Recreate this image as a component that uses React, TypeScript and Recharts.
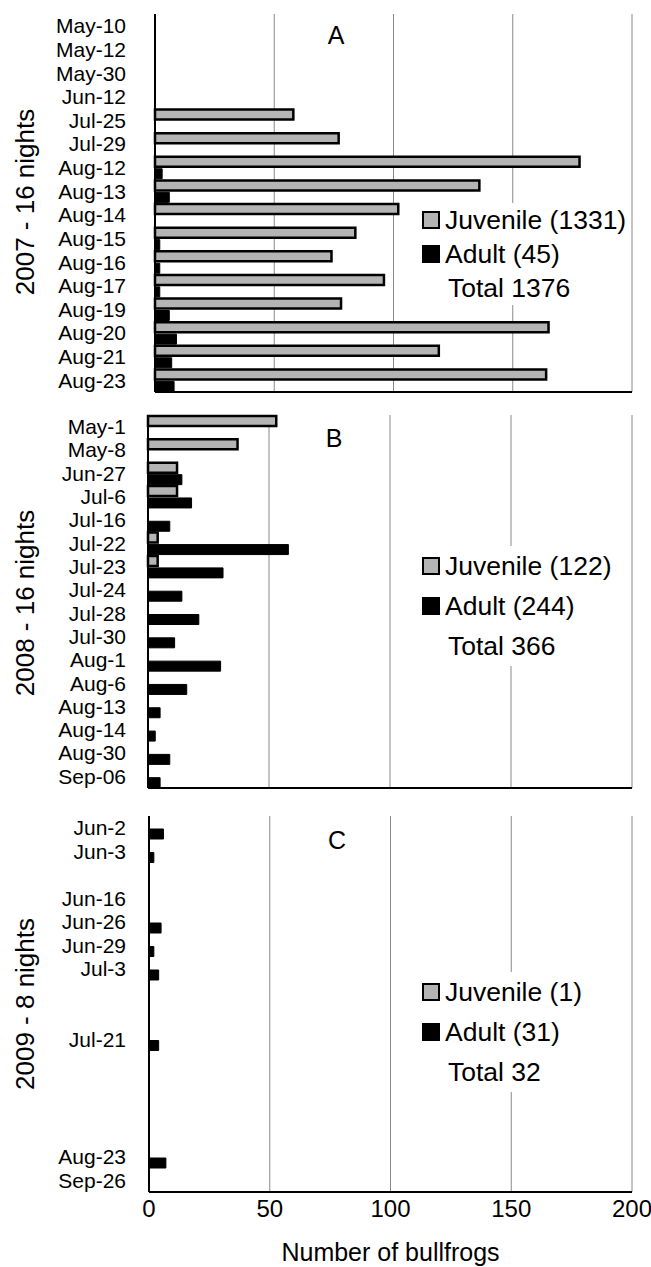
import React from "react";
import { BarChart, Bar, XAxis, YAxis, CartesianGrid, Legend } from "recharts";

// 2007
const datesA = ["May-10", "May-12", "May-30", "Jun-12", "Jul-25", "Jul-29", "Aug-12", "Aug-13", "Aug-14", "Aug-15", "Aug-16", "Aug-17", "Aug-19", "Aug-20", "Aug-21", "Aug-23"];
const juvenileA = [0, 0, 0, 0, 58, 77, 178, 136, 102, 84, 74, 96, 78, 165, 119, 164];
const adultA = [0, 0, 0, 0, 0, 0, 3, 6, 0, 2, 2, 2, 6, 9, 7, 8];

// 2008
const datesB = ["May-1", "May-8", "Jun-27", "Jul-6", "Jul-16", "Jul-22", "Jul-23", "Jul-24", "Jul-28", "Jul-30", "Aug-1", "Aug-6", "Aug-13", "Aug-14", "Aug-30", "Sep-06"];
const juvenileB = [53, 37, 12, 12, 0, 4, 4, 0, 0, 0, 0, 0, 0, 0, 0, 0];
const adultB = [0, 0, 14, 18, 9, 58, 31, 14, 21, 11, 30, 16, 5, 3, 9, 5];

// 2009 (blank slots are empty categories)
const datesC = ["Jun-2", "Jun-3", "", "Jun-16", "Jun-26", "Jun-29", "Jul-3", "", "", "Jul-21", "", "", "", "", "Aug-23", "Sep-26"];
const juvenileC = [0, 0, 0, 0, 0, 0, 0, 0, 0, 0, 0, 0, 0, 0, 0, 0];
const adultC = [6, 2, 0, 0, 5, 2, 4, 0, 0, 4, 0, 0, 0, 0, 7, 0];

const xTicks = [0, 50, 100, 150, 200];
const legendA = ["Juvenile (1331)", "Adult (45)", "Total 1376"];
const legendB = ["Juvenile (122)", "Adult (244)", "Total 366"];
const legendC = ["Juvenile (1)", "Adult (31)", "Total 32"];

const FONT = "'Liberation Sans', Arial, Helvetica, sans-serif";
const GRAY = "#b4b4b4";

type PanelProps = {
  dates: string[];
  juvenile: number[];
  adult: number[];
  top: number;
  height: number;
  marginTop: number;
  axisWidth: number;
  tickGap: number;
  xAxisHeight: number;
  showTicks: boolean;
  title: string;
  titleY: number;
  legend: string[];
  legendTop: number;
  rowH: number;
  letter: string;
  letterX: number;
  letterY: number;
};

function LegendBox({ items, rowH }: { items: string[]; rowH: number }) {
  const sq = (fill: string) => (
    <span style={{ display: "inline-block", width: 18, height: 18, boxSizing: "border-box", border: "2px solid #000", background: fill, marginRight: 5 }} />
  );
  const row = { height: rowH, display: "flex", alignItems: "center", fontSize: 26.5, color: "#000", whiteSpace: "nowrap" as const };
  return (
    <div style={{ background: "#fff", paddingLeft: 2 }}>
      <div style={row}>{sq(GRAY)}{items[0]}</div>
      <div style={row}>{sq("#000")}{items[1]}</div>
      <div style={{ ...row, paddingLeft: 26 }}>{items[2]}</div>
    </div>
  );
}

const NoTick = () => <g />;

function Panel(p: PanelProps) {
  const data = p.dates.map((d, i) => ({ i, date: d, juvenile: p.juvenile[i], adult: p.adult[i] }));
  const titleY = p.titleY - p.top;
  return (
    <div style={{ position: "absolute", left: 0, top: p.top }}>
      <BarChart
        width={651}
        height={p.height}
        data={data}
        layout="vertical"
        margin={{ top: p.marginTop, right: 19, bottom: 0, left: 0 }}
        barCategoryGap={1}
        barGap={2}
      >
        <CartesianGrid horizontal={false} stroke="#8a8a8a" />
        <XAxis
          type="number"
          domain={[0, 200]}
          ticks={xTicks}
          height={p.xAxisHeight}
          axisLine={{ stroke: "#000", strokeWidth: 2 }}
          tickLine={false}
          tick={p.showTicks ? { fontSize: 24, fill: "#000" } : NoTick}
          label={p.showTicks ? { value: "Number of bullfrogs", position: "insideBottom", offset: 6, fontSize: 25, fill: "#000" } : undefined}
        />
        <YAxis
          type="category"
          dataKey="i"
          width={p.axisWidth}
          interval={0}
          tickFormatter={(v: number) => p.dates[v]}
          tickLine={false}
          tickSize={0}
          tickMargin={p.tickGap}
          axisLine={{ stroke: "#000", strokeWidth: 2 }}
          tick={{ fontSize: 21, fill: "#000" }}
          label={{
            content: () => (
              <text x={25} y={titleY} transform={`rotate(-90 25 ${titleY})`} textAnchor="middle" dominantBaseline="central" fontSize={26} fill="#000">
                {p.title}
              </text>
            ),
          }}
        />
        <Bar dataKey="juvenile" name="Juvenile" fill={GRAY} stroke="#000" strokeWidth={2.5} isAnimationActive={false} />
        <Bar dataKey="adult" name="Adult" fill="#000" stroke="#000" strokeWidth={1} isAnimationActive={false} />
        <Legend
          layout="horizontal"
          verticalAlign="middle"
          align="center"
          wrapperStyle={{ left: 420, top: p.legendTop, width: 210 }}
          content={() => <LegendBox items={p.legend} rowH={p.rowH} />}
        />
      </BarChart>
      <div style={{ position: "absolute", left: p.letterX - 20, top: p.letterY - p.top - 15, width: 40, height: 30, lineHeight: "30px", textAlign: "center", fontSize: 25, color: "#000" }}>
        {p.letter}
      </div>
    </div>
  );
}

export default function App() {
  return (
    <div style={{ position: "absolute", left: 0, top: 0, width: 651, height: 1267, background: "#fff", fontFamily: FONT }}>
      <Panel
        dates={datesA} juvenile={juvenileA} adult={adultA}
        top={0} height={400} marginTop={14} axisWidth={155} tickGap={29} xAxisHeight={8} showTicks={false}
        title="2007 - 16 nights" titleY={202}
        legend={legendA} legendTop={203} rowH={34}
        letter="A" letterX={336} letterY={35}
      />
      <Panel
        dates={datesB} juvenile={juvenileB} adult={adultB}
        top={400} height={400} marginTop={15} axisWidth={148} tickGap={22} xAxisHeight={12} showTicks={false}
        title="2008 - 16 nights" titleY={603}
        legend={legendB} legendTop={146} rowH={40}
        letter="B" letterX={334} letterY={438}
      />
      <Panel
        dates={datesC} juvenile={juvenileC} adult={adultC}
        top={800} height={467} marginTop={16} axisWidth={149} tickGap={23} xAxisHeight={75} showTicks={true}
        title="2009 - 8 nights" titleY={1004}
        legend={legendC} legendTop={172} rowH={40}
        letter="C" letterX={337} letterY={840}
      />
    </div>
  );
}
